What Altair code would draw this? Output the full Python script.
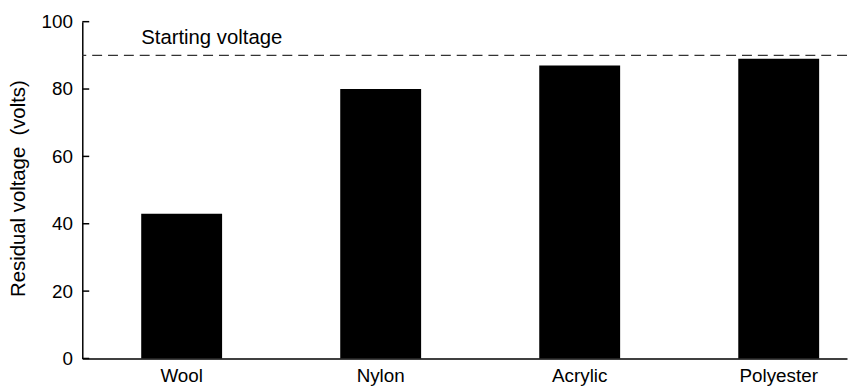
import altair as alt
import pandas as pd

fabrics = ["Wool", "Nylon", "Acrylic", "Polyester"]
residual = [43, 80, 87, 89]
start_voltage = [90]
start_label = ["Starting voltage"]
y_ticks = [0, 20, 40, 60, 80, 100]

FONT = "Liberation Sans"

bars_df = pd.DataFrame({"fabric": fabrics, "v": residual})
ref_df = pd.DataFrame({"fabric": ["Wool"], "v": start_voltage, "label": start_label})
tick_df = pd.DataFrame({"v": y_ticks})

xscale = alt.Scale(domain=fabrics, paddingInner=0.5936, paddingOuter=0.218, align=0.679)
yscale = alt.Scale(domain=[0, 100], nice=False, zero=True)

x_axis = alt.Axis(title=None, labelAngle=0, ticks=False, domainColor="black",
                  domainWidth=1.5, labelFontSize=19, labelColor="black",
                  labelPadding=8, labelFont=FONT, grid=False)
y_axis = alt.Axis(values=y_ticks, title="Residual voltage\u00a0 (volts)", ticks=False,
                  tickSize=0, grid=False, domainColor="black", domainWidth=1.5,
                  labelFontSize=19, labelColor="black", labelPadding=10,
                  labelFont=FONT, titleFont=FONT, titleFontSize=20.5,
                  titleFontWeight="normal", titleColor="black",
                  titleAngle=-90, titleBaseline="alphabetic", titleX=-58, titleY=168,
                  titleAlign="center")

bars = alt.Chart(bars_df).mark_bar(color="black").encode(
    x=alt.X("fabric:N", scale=xscale, axis=x_axis),
    y=alt.Y("v:Q", scale=yscale, axis=y_axis),
)

ref_line = alt.Chart(ref_df).mark_rule(strokeDash=[10, 6], color="#333333", strokeWidth=1.3).encode(
    y=alt.Y("v:Q", scale=yscale, axis=y_axis),
)

ref_text = alt.Chart(ref_df).mark_text(align="left", baseline="alphabetic", dy=-11,
                                       fontSize=20.5, font=FONT, color="black").encode(
    x=alt.X("fabric:N", scale=xscale, axis=x_axis, bandPosition=0),
    y=alt.Y("v:Q", scale=yscale, axis=y_axis),
    text="label:N",
)

ticks = alt.Chart(tick_df).mark_rule(color="black", strokeWidth=1.5).encode(
    x=alt.value(0), x2=alt.value(7),
    y=alt.Y("v:Q", scale=yscale, axis=y_axis),
)

chart = alt.layer(bars, ref_line, ref_text, ticks).properties(
    width=772, height=340,
    autosize=alt.AutoSizeParams(type="none"),
    padding={"left": 75, "top": 12, "right": 1, "bottom": 27},
).configure_view(stroke=None)

chart.save("out.html", embed_options={"renderer": "svg", "actions": False})
